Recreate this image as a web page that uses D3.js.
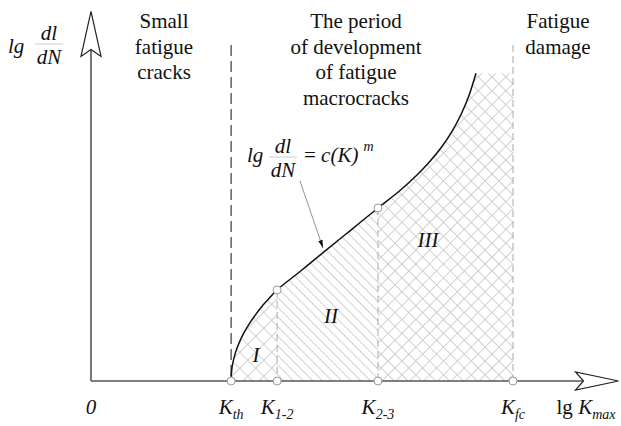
<!DOCTYPE html>
<html><head><meta charset="utf-8">
<script src="https://cdn.jsdelivr.net/npm/d3@7"></script>
<style>
html,body{margin:0;padding:0;background:#fff;}
svg{display:block;}
</style></head>
<body>
<svg id="chart" width="621" height="426"></svg>
<script>
// ---- data (schematic units: x = lg Kmax, y = lg dl/dN) ----
const keyLabels = ["K", "K", "K", "K"];
const keySubs = ["th", "1-2", "2-3", "fc"];
const keyValues = [3.32, 4.41, 6.80, 10];
const curveX = [3.318, 3.341, 3.389, 3.460, 3.555, 3.649, 3.768, 3.910, 4.076, 4.242, 4.408, 4.953, 5.498, 6.137, 6.801, 7.322, 7.725, 8.033, 8.318, 8.555, 8.768, 8.957, 9.123];
const curveY = [0.00, 0.40, 0.69, 0.98, 1.26, 1.49, 1.74, 1.99, 2.26, 2.49, 2.71, 3.26, 3.82, 4.47, 5.15, 5.67, 6.13, 6.54, 6.98, 7.43, 7.93, 8.50, 9.16];
const kneeValues = [2.71, 5.15];
const regionNames = ["I", "II", "III"];
const zoneTitles = [["Small", "fatigue", "cracks"], ["The period", "of development", "of fatigue", "macrocracks"], ["Fatigue", "damage"]];
const axisEnds = [12.5, 11.0];
const boundaryTop = 10;

const FONT = "'Liberation Serif', 'DejaVu Serif', 'Noto Serif', 'Liberation Sans', Arimo, sans-serif";

// ---- scales ----
const x = d3.scaleLinear().domain([0, 10]).range([91, 513]);
const y = d3.scaleLinear().domain([0, 10]).range([381, 45]);

const svg = d3.select("#chart").attr("font-family", FONT);
const defs = svg.append("defs");

function hatch(id, step, cross, color) {
  const p = defs.append("pattern").attr("id", id)
    .attr("patternUnits", "userSpaceOnUse")
    .attr("width", step).attr("height", step)
    .attr("patternTransform", "rotate(45)");
  p.append("line").attr("x1", 0).attr("y1", 0).attr("x2", step).attr("y2", 0)
    .attr("stroke", color).attr("stroke-width", 1.6);
  if (cross) p.append("line").attr("x1", 0).attr("y1", 0).attr("x2", 0).attr("y2", step)
    .attr("stroke", color).attr("stroke-width", 1.6);
}
hatch("h1", 11.3, true, "#c6c6c6");
hatch("h2", 6.8, false, "#c6c6c6");
hatch("h3", 9.8, true, "#c6c6c6");

const pts = curveX.map((v, i) => [v, curveY[i]]);
const topY = curveY[curveY.length - 1];
const crv = d3.curveCatmullRom.alpha(0.5);

const areaGen = d3.area().x(d => x(d[0])).y0(y(0)).y1(d => y(d[1])).curve(crv);
defs.append("clipPath").attr("id", "under").append("path").attr("d", areaGen(pts));
defs.append("clipPath").attr("id", "under2").append("rect")
  .attr("x", x(curveX[curveX.length - 1]) - 0.5).attr("y", y(topY))
  .attr("width", x(keyValues[3]) - x(curveX[curveX.length - 1]) + 0.5).attr("height", y(0) - y(topY));

const regions = [[keyValues[0], keyValues[1], "h1"], [keyValues[1], keyValues[2], "h2"], [keyValues[2], keyValues[3], "h3"]];
["under", "under2"].forEach(cp => {
  const g = svg.append("g").attr("clip-path", `url(#${cp})`);
  g.selectAll("rect").data(regions).join("rect")
    .attr("x", d => x(d[0])).attr("width", d => x(d[1]) - x(d[0]))
    .attr("y", y(topY + 0.5)).attr("height", y(0) - y(topY + 0.5))
    .attr("fill", d => `url(#${d[2]})`);
});

// vertical boundary lines
svg.append("line").attr("x1", x(keyValues[0])).attr("x2", x(keyValues[0]))
  .attr("y1", y(boundaryTop)).attr("y2", y(0))
  .attr("stroke", "#111").attr("stroke-width", 1).attr("stroke-dasharray", "11,5");
svg.append("line").attr("x1", x(keyValues[3])).attr("x2", x(keyValues[3]))
  .attr("y1", y(boundaryTop)).attr("y2", y(0))
  .attr("stroke", "#aaa").attr("stroke-width", 1).attr("stroke-dasharray", "7,4");
svg.selectAll(".knee").data(kneeValues).join("line")
  .attr("x1", (d, i) => x(keyValues[i + 1])).attr("x2", (d, i) => x(keyValues[i + 1]))
  .attr("y1", d => y(d)).attr("y2", y(0))
  .attr("stroke", "#aaa").attr("stroke-width", 1).attr("stroke-dasharray", "7,4");

// axes
const axisColor = "#555";
svg.append("line").attr("x1", x(0)).attr("x2", x(axisEnds[0]) - 35).attr("y1", y(0)).attr("y2", y(0))
  .attr("stroke", axisColor).attr("stroke-width", 1.6);
svg.append("line").attr("x1", x(0)).attr("x2", x(0)).attr("y1", y(0)).attr("y2", y(axisEnds[1]) + 38)
  .attr("stroke", axisColor).attr("stroke-width", 1.6);
const tx = x(axisEnds[0]), ty = y(0);
svg.append("path").attr("d", `M${tx},${ty} L${tx-43},${ty-9} L${tx-35},${ty} L${tx-43},${ty+9} Z`)
  .attr("fill", "#fff").attr("stroke", "#222").attr("stroke-width", 1.2);
const ax = x(0), ay = y(axisEnds[1]);
svg.append("path").attr("d", `M${ax},${ay} L${ax-10},${ay+45} L${ax},${ay+38} L${ax+10},${ay+45} Z`)
  .attr("fill", "#fff").attr("stroke", "#222").attr("stroke-width", 1.2);

// curve
const lineGen = d3.line().x(d => x(d[0])).y(d => y(d[1])).curve(crv);
svg.append("path").attr("d", lineGen(pts)).attr("fill", "none").attr("stroke", "#111").attr("stroke-width", 1.5);

// circles
const circ = keyValues.map(v => [v, 0]).concat(kneeValues.map((v, i) => [keyValues[i + 1], v]));
svg.selectAll(".c").data(circ).join("circle")
  .attr("cx", d => x(d[0])).attr("cy", d => y(d[1])).attr("r", 4)
  .attr("fill", "#fff").attr("stroke", "#999").attr("stroke-width", 1);

// leader line
const lx1 = 300, ly1 = 181, lx2 = 323, ly2 = 248;
svg.append("line").attr("x1", lx1).attr("y1", ly1).attr("x2", lx2).attr("y2", ly2)
  .attr("stroke", "#777").attr("stroke-width", 0.8);
const ang = Math.atan2(ly2 - ly1, lx2 - lx1);
const al = 8, aw = 2.2;
svg.append("path").attr("d", `M${lx2},${ly2} L${lx2 - al*Math.cos(ang) + aw*Math.sin(ang)},${ly2 - al*Math.sin(ang) - aw*Math.cos(ang)} L${lx2 - al*Math.cos(ang) - aw*Math.sin(ang)},${ly2 - al*Math.sin(ang) + aw*Math.cos(ang)} Z`)
  .attr("fill", "#111");

// zone titles
const fs = 21;
const titleX = [164, 356, 558];
zoneTitles.forEach((lines, i) => {
  const t = svg.append("text").attr("text-anchor", "middle").attr("font-size", fs).attr("fill", "#111");
  lines.forEach((ln, j) => t.append("tspan").attr("x", titleX[i]).attr("y", 28 + j * 25.5).text(ln));
});

// region numerals
const numPos = [[256, 362], [331, 323], [428, 247]];
svg.selectAll(".rn").data(regionNames).join("text")
  .attr("x", (d, i) => numPos[i][0]).attr("y", (d, i) => numPos[i][1])
  .attr("text-anchor", "middle").attr("font-size", 21).attr("font-style", "italic").attr("fill", "#111").text(d => d);

// bottom labels
const by = 414;
keyLabels.forEach((k, i) => {
  const t = svg.append("text").attr("x", x(keyValues[i])).attr("y", by).attr("text-anchor", "middle")
    .attr("font-size", 21).attr("font-style", "italic").attr("fill", "#111");
  t.append("tspan").text(k);
  t.append("tspan").attr("font-size", 14).attr("dy", 5).text(keySubs[i]);
});
svg.append("text").attr("x", x(0)).attr("y", by).attr("text-anchor", "middle")
  .attr("font-size", 21).attr("font-style", "italic").attr("fill", "#111").text("0");
const xl = svg.append("text").attr("x", 586).attr("y", by).attr("text-anchor", "middle").attr("font-size", 21).attr("fill", "#111");
xl.append("tspan").text("lg ");
xl.append("tspan").attr("font-style", "italic").text("K");
xl.append("tspan").attr("font-style", "italic").attr("font-size", 14).attr("dy", 5).text("max");

function frac(gx, base, size) {
  const g = svg.append("g");
  g.append("text").attr("x", gx).attr("y", base - 12).attr("text-anchor", "middle")
    .attr("font-size", size).attr("font-style", "italic").attr("fill", "#111").text("dl");
  g.append("line").attr("x1", gx - 14).attr("x2", gx + 14).attr("y1", base - 8).attr("y2", base - 8)
    .attr("stroke", "#ccc").attr("stroke-width", 1);
  g.append("text").attr("x", gx).attr("y", base + 12).attr("text-anchor", "middle")
    .attr("font-size", size).attr("font-style", "italic").attr("fill", "#111").text("dN");
}
svg.append("text").attr("x", 8).attr("y", 53).attr("font-size", 21).attr("font-style", "italic").attr("fill", "#111").text("lg");
frac(49, 52, 21);

svg.append("text").attr("x", 247).attr("y", 162).attr("font-size", 21).attr("font-style", "italic").attr("fill", "#111").text("lg");
frac(283, 165, 21);
const ft = svg.append("text").attr("x", 304).attr("y", 162).attr("font-size", 21).attr("fill", "#111");
ft.append("tspan").text("= ");
ft.append("tspan").attr("font-style", "italic").text("c(K)");
ft.append("tspan").attr("font-style", "italic").attr("font-size", 14).attr("dx", 5).attr("dy", -11).text("m");
</script>
</body></html>
